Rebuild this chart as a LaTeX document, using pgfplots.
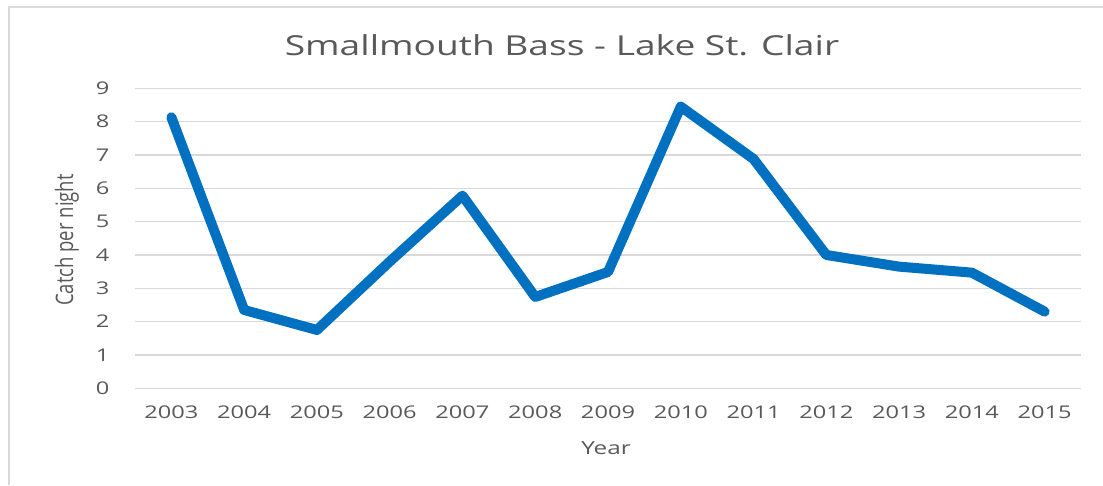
\documentclass[border=0pt]{standalone}
\usepackage{fontspec}
\setmainfont{Open Sans}[FakeStretch=1.35]
\newfontfamily\plainos{Open Sans}
\usepackage{pgfplots}
\pgfplotsset{compat=1.18}
\definecolor{txt}{HTML}{595959}
\definecolor{grd}{HTML}{D9D9D9}
\definecolor{xlblue}{HTML}{0070C0}
\begin{document}
\begin{tikzpicture}[x=1pt,y=1pt]
\path[use as bounding box] (0,0) rectangle (1103,485);
\draw[grd, line width=1.5pt] (9,0) -- (9,478) -- (1103,478);
\node[txt, font=\fontsize{27.5}{32}\selectfont] at (562,440) {Smallmouth Bass - Lake St. Clair};
\node[txt, font=\fontsize{18}{22}\selectfont] at (606,37) {Year};
\node[txt, rotate=90, font=\plainos\fontsize{18.5}{22}\selectfont] at (67,245) {\scalebox{1}[1.3]{Catch per night}};
\begin{axis}[
  at={(135pt,96.7pt)}, anchor=south west,
  scale only axis, width=946pt, height=300pt,
  xmin=-0.5, xmax=12.5, ymin=0, ymax=9,
  xtick={0,...,12},
  xticklabels={2003,2004,2005,2006,2007,2008,2009,2010,2011,2012,2013,2014,2015},
  ytick={0,...,9},
  axis line style={draw=none},
  major tick length=0pt,
  ymajorgrids, grid style={grd, line width=1.5pt},
  tick label style={txt, font=\fontsize{17.5}{20}\selectfont},
  /pgf/number format/assume math mode=true,
  xticklabel style={yshift=-14pt},
  yticklabel style={xshift=-22pt},
  clip=false,
]
\addplot[xlblue, line width=10pt, line join=round, line cap=round] coordinates {
(0,8.13) (1,2.35) (2,1.75) (3,3.8) (4,5.78) (5,2.74) (6,3.49) (7,8.45) (8,6.88) (9,4.0) (10,3.65) (11,3.47) (12,2.3)
};
\end{axis}
\end{tikzpicture}
\end{document}
